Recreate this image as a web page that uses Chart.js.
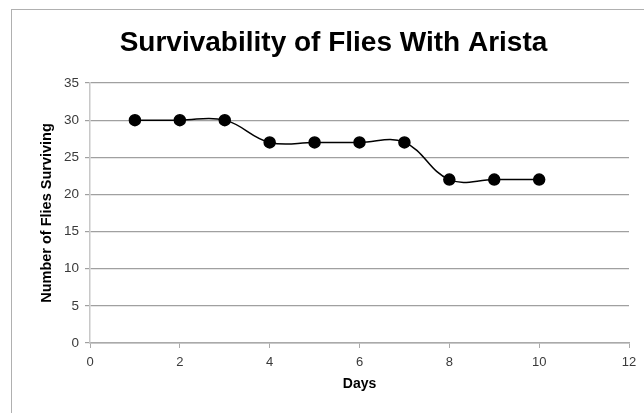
<!DOCTYPE html>
<html>
<head>
<meta charset="utf-8">
<script src="https://cdn.jsdelivr.net/npm/chart.js@4/dist/chart.umd.min.js"></script>
<style>
  html, body { margin: 0; padding: 0; background: #fff; }
  #wrap { position: relative; width: 644px; height: 413px; overflow: hidden; }
  #frame { position: absolute; left: 11px; top: 9px; width: 700px; height: 500px; border: 1.5px solid #b0b0b0; }
  canvas { position: absolute; left: 0; top: 0; }
</style>
</head>
<body>
<div id="wrap">
  <div id="frame"></div>
  <canvas id="chart" width="644" height="413"></canvas>
</div>
<script>
// data
var days = [1, 2, 3, 4, 5, 6, 7, 8, 9, 10];
var flies = [30, 30, 30, 27, 27, 27, 27, 22, 22, 22];
var xTicks = [0, 2, 4, 6, 8, 10, 12];
var yTicks = [0, 5, 10, 15, 20, 25, 30, 35];

var points = days.map(function(d, i){
    return { x: d, y: flies[i] };
});

var font = "'Liberation Sans', Arial, sans-serif";

new Chart(document.getElementById("chart"), {
    type: 'line',
    data: {
        datasets: [{
            label: "Flies surviving",
            data: points,
            borderColor: "#000",
            backgroundColor: "#000",
            borderWidth: 1.5,
            tension: 0.4,
            pointRadius: 5.5,
            pointHoverRadius: 5.5,
            pointBackgroundColor: "#000",
            pointBorderColor: "#000"
        }]
    },
    options: {
        responsive: false,
        animation: false,
        layout: { padding: { left: 38, right: 15, top: 0, bottom: 0 } },
        plugins: {
            legend: { display: false },
            tooltip: { enabled: false },
            title: {
                display: true,
                text: 'Survivability of Flies With Arista',
                color: '#000',
                font: { family: font, size: 28, weight: 'bold' },
                padding: { top: 26, bottom: 23.4 }
            }
        },
        scales: {
            x: {
                type: 'linear',
                min: 0,
                max: 12,
                afterBuildTicks: function(scale){
                    scale.ticks = xTicks.map(function(v){ return { value: v }; });
                },
                afterFit: function(scale){ scale.height = 70; },
                grid: { drawOnChartArea: false, color: '#aaa', tickLength: 5 },
                border: { color: '#aaa', width: 1.5 },
                ticks: { color: '#3a3a3a', padding: 7, font: { family: font, size: 13 } },
                title: {
                    display: true,
                    text: 'Days',
                    color: '#000',
                    padding: { top: 4, bottom: 20 },
                    font: { family: font, size: 14, weight: 'bold' }
                }
            },
            y: {
                min: 0,
                max: 35,
                afterBuildTicks: function(scale){
                    scale.ticks = yTicks.map(function(v){ return { value: v }; });
                },
                afterFit: function(scale){ scale.width = 52; },
                grid: { color: '#a0a0a0', lineWidth: 1.2, tickLength: 5 },
                border: { color: '#c8c8c8', width: 1.5 },
                ticks: { color: '#3a3a3a', padding: 6, font: { family: font, size: 13.5 } },
                title: {
                    display: true,
                    text: 'Number of Flies Surviving',
                    color: '#000',
                    padding: { top: 0, bottom: 0 },
                    font: { family: font, size: 14.5, weight: 'bold' }
                }
            }
        }
    }
});
</script>
</body>
</html>
